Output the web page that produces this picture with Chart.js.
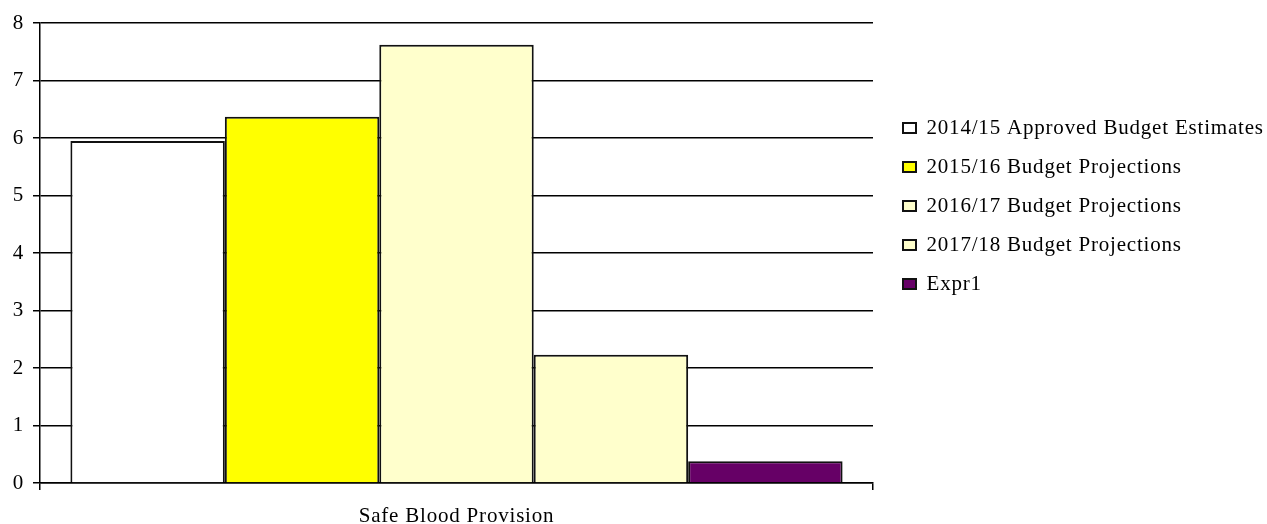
<!DOCTYPE html>
<html><head><meta charset="utf-8">
<script src="https://cdn.jsdelivr.net/npm/chart.js@4.4.1/dist/chart.umd.min.js"></script>
<style>html,body{margin:0;padding:0;background:#fff}#wrap{width:1267px;height:524px}</style>
</head><body><div id="wrap"><canvas id="c" width="1267" height="524"></canvas></div>
<script>
const categories = ['Safe Blood Provision'];
const seriesNames = ['2014/15 Approved Budget Estimates','2015/16 Budget Projections','2016/17 Budget Projections','2017/18 Budget Projections','Expr1'];
const approved1415 = [5.95];
const proj1516 = [6.37];
const proj1617 = [7.62];
const proj1718 = [2.23];
const expr1 = [0.38];
const yTickMin = 0, yTickMax = 8, yTickStep = 1;
const seriesColors = ['#FFFFFF','#FFFF00','#FFFFCC','#FFFFCC','#660066'];
const seriesValues = [approved1415, proj1516, proj1617, proj1718, expr1];

const FONT = '"Liberation Serif", "Times New Roman", serif';
const FS = 21;
const LS = '0.8px';
const LEG_PAD = 18;
Chart.defaults.font.family = FONT;
Chart.defaults.font.size = FS;
Chart.defaults.color = '#000';

const tweak = {
  id: 'tweak',
  beforeUpdate(chart){ chart.ctx.letterSpacing = LS; },
  beforeLayout(chart){ chart.ctx.letterSpacing = LS; },
  afterLayout(chart){
    const l = chart.legend;
    const w = l.width, h = l.height;
    l.left = 903 - LEG_PAD; l.right = l.left + w;
    const top = 128 - LEG_PAD - FS / 2;
    l.top = top; l.bottom = top + h;
  },
  beforeDraw(chart){ chart.ctx.letterSpacing = LS; }
};

new Chart(document.getElementById('c'), {
  type: 'bar',
  data: {
    labels: categories,
    datasets: seriesNames.map((name, i) => ({
      label: name,
      data: seriesValues[i],
      backgroundColor: seriesColors[i],
      borderColor: '#111',
      borderWidth: 2,
      categoryPercentage: 0.927,
      barPercentage: 1
    }))
  },
  options: {
    responsive: false,
    devicePixelRatio: 1,
    animation: false,
    layout: { padding: { top: 23, left: 0, right: 0, bottom: 0 } },
    plugins: {
      tooltip: { enabled: false },
      legend: {
        position: 'right',
        align: 'start',
        maxWidth: 384,
        labels: { boxWidth: 13, boxHeight: 10, padding: LEG_PAD, color: '#000', font: { size: FS, family: FONT } }
      }
    },
    scales: {
      x: {
        offset: true,
        grid: { offset: true, drawOnChartArea: false, drawTicks: true, tickLength: 7, color: '#000', lineWidth: 1.5 },
        border: { display: true, color: '#000', width: 1.5 },
        ticks: { padding: 14, color: '#000', font: { size: FS } },
        afterFit(s){ s.height = 41; }
      },
      y: {
        min: yTickMin, max: yTickMax,
        ticks: { stepSize: yTickStep, padding: 9, color: '#000', font: { size: FS } },
        grid: { color: '#000', lineWidth: 1.5, tickLength: 7 },
        border: { display: true, color: '#000', width: 1.5 },
        afterFit(s){ s.width = 40; }
      },
      y2: {
        type: 'linear', position: 'right', min: 0, max: 1, display: true,
        grid: { display: false }, ticks: { display: false }, border: { display: false },
        afterFit(s){ s.width = Math.max(0, 394 - s.chart.legend.width); }
      }
    }
  },
  plugins: [tweak]
});
</script></body></html>
